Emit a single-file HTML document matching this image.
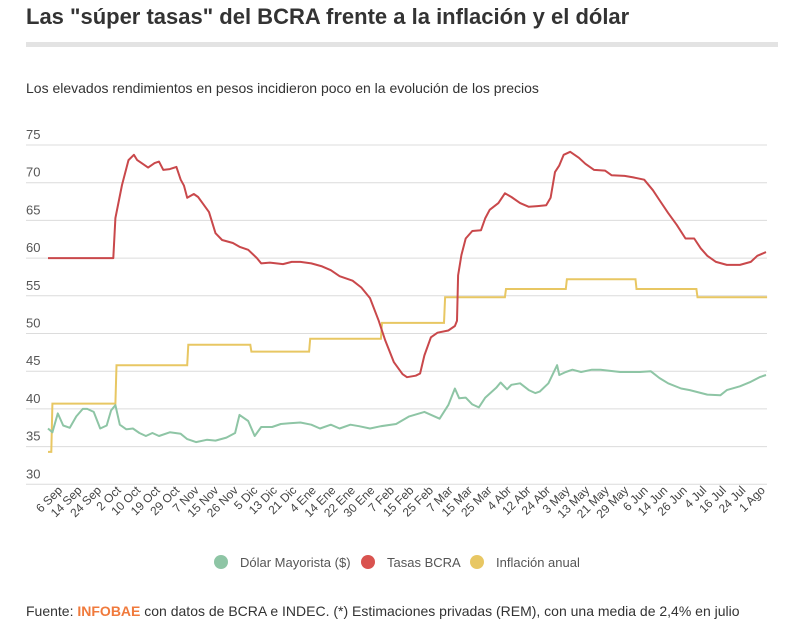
<!DOCTYPE html>
<html><head><meta charset="utf-8"><style>
body{margin:0;background:#fff;font-family:"Liberation Sans",sans-serif;}
#wrap{position:relative;width:793px;height:621px;overflow:hidden;}
h1{position:absolute;left:26px;top:4px;margin:0;font-size:22px;font-weight:bold;color:#333;}
.bar{position:absolute;left:26px;top:42px;width:752px;height:5px;background:#e3e3e3;}
.sub{position:absolute;left:26px;top:80px;font-size:14px;color:#333;}
.foot{position:absolute;left:26px;top:603px;font-size:14px;color:#333;}
.foot b{color:#f07a3c;}
</style></head><body>
<div id="wrap">
<h1>Las "súper tasas" del BCRA frente a la inflación y el dólar</h1>
<div class="bar"></div>
<div class="sub">Los elevados rendimientos en pesos incidieron poco en la evolución de los precios</div>
<svg id="chart" width="793" height="621" style="position:absolute;left:0;top:0"></svg>
<div class="foot">Fuente: <b>INFOBAE</b> con datos de BCRA e INDEC. (*) Estimaciones privadas (REM), con una media de 2,4% en julio</div>
</div>
<script>
const yTicks=[30,35,40,45,50,55,60,65,70,75];
const xLabels=["6 Sep","14 Sep","24 Sep","2 Oct","10 Oct","19 Oct","29 Oct","7 Nov","15 Nov","26 Nov","5 Dic","13 Dic","21 Dic","4 Ene","14 Ene","22 Ene","30 Ene","7 Feb","15 Feb","25 Feb","7 Mar","15 Mar","25 Mar","4 Abr","12 Abr","24 Abr","3 May","13 May","21 May","29 May","6 Jun","14 Jun","26 Jun","4 Jul","16 Jul","24 Jul","1 Ago"];
const tasasDays=[0,30,31,34,37,39.5,41,43,46,49,51,53,56,59,61,62.5,64,67,69,71,74,77,80,85,88,92,96,98,102,108,112,116,121,126,130,134,140,144,148,152,155,159,163,165,169,171,173,176,179,184,187,188,188.5,190,192,195,199,201,203,207,210,213,217,221,225,229,231,233,235,237,240,244,247,251,256,259,265,269,274,278,281,285,289,293,297,300,303,307,312,318,323,326,330];
const tasasVals=[60,60,65.3,69.7,73,73.7,73,72.6,72,72.6,72.8,71.7,71.8,72.1,70.4,69.6,68,68.5,68.1,67.3,66.1,63.3,62.4,62,61.5,61.1,60,59.3,59.4,59.2,59.5,59.5,59.3,58.9,58.4,57.6,57,56.1,54.7,51.7,49.1,46.2,44.6,44.2,44.4,44.7,47.1,49.5,50.1,50.4,51,51.7,57.7,60.4,62.6,63.6,63.7,65.3,66.4,67.3,68.6,68.1,67.3,66.8,66.9,67,68,71.4,72.3,73.7,74.1,73.3,72.5,71.7,71.6,71,70.9,70.7,70.4,69,67.7,66,64.4,62.6,62.6,61.3,60.3,59.5,59.1,59.1,59.5,60.3,60.8];
const dolarDays=[0,2,4.5,7,10,13,16,18,21,24,27,29,31,33,36,39,42,45,48,51,56,61,64,68,73,77,82,86,88,92,95,98,103,107,111,116,121,125,130,134,139,143,148,153,160,166,173,180,184,187,189,192,195,198,201,206,208,211,213,217,221,224,226,230,234,235,238,241,245,250,254,263,272,277,281,285,291,295,303,309,312,318,323,327,330];
const dolarVals=[37.4,36.9,39.4,37.8,37.5,39,40,40,39.6,37.4,37.8,39.8,40.5,37.9,37.3,37.4,36.8,36.4,36.8,36.4,36.9,36.7,36,35.6,35.9,35.8,36.2,36.8,39.2,38.4,36.4,37.6,37.6,38,38.1,38.2,37.9,37.4,37.9,37.4,37.9,37.7,37.4,37.7,38,39,39.6,38.7,40.5,42.7,41.4,41.5,40.6,40.2,41.5,42.8,43.5,42.6,43.2,43.4,42.5,42.1,42.3,43.4,45.8,44.5,44.9,45.2,44.9,45.2,45.2,44.9,44.9,45,44.1,43.4,42.7,42.5,41.9,41.8,42.5,43,43.6,44.2,44.5];
const inflDays=[0,1.5,31,64,93,120,153,182,210,238,270,298,330];
const inflVals=[34.3,40.7,45.8,48.5,47.6,49.3,51.4,54.8,55.9,57.2,55.9,54.8,54.8];

const NS="http://www.w3.org/2000/svg",svg=document.getElementById('chart');
const X=d=>48+d*(718/330), Y=v=>145+(75-v)*7.54;
function mk(t,a){const e=document.createElementNS(NS,t);for(const k in a)e.setAttribute(k,a[k]);svg.appendChild(e);return e;}
yTicks.forEach(v=>{
 const l=mk('line',{x1:26,x2:767,y1:Y(v),y2:Y(v),stroke:'#dcdcdc','stroke-width':1});
 
 
 const t=mk('text',{x:26,y:Y(v)-6,'font-size':13,fill:'#555'});t.textContent=v;
 
 
});
const step=323/(xLabels.length-1);
xLabels.forEach((s,i)=>{
 const x=X(i*step)+15,y=491;
 const t=mk('text',{x:x,y:y,'font-size':12,fill:'#444','text-anchor':'end',transform:`rotate(-45 ${x} ${y})`});t.textContent=s;
 
 
});
function line(days,vals,col,name){
 const d=days.map((x,i)=>(i?'L':'M')+X(x).toFixed(1)+','+Y(vals[i]).toFixed(1)).join('');
 const p=mk('path',{d:d,fill:'none',stroke:col,'stroke-width':2,'stroke-linejoin':'round'});
 
 
}
let sd='M'+X(inflDays[0])+','+Y(inflVals[0]);
for(let i=1;i<inflDays.length;i++){sd+='L'+X(inflDays[i]).toFixed(1)+','+Y(inflVals[i-1]).toFixed(1)+'L'+X(inflDays[i]+0.5).toFixed(1)+','+Y(inflVals[i]).toFixed(1);}
const ip=mk('path',{d:sd,fill:'none',stroke:'#e8c763','stroke-width':2});


line(dolarDays,dolarVals,'#8ec5a5','dolar-line');
line(tasasDays,tasasVals,'#c9484b','tasas-line');
[[221,'#8ec5a5','Dólar Mayorista ($)'],[368,'#d9534f','Tasas BCRA'],[477,'#e8c763','Inflación anual']].forEach(([x,c,s])=>{
 const g=mk('g',{});
 
 
 const ci=document.createElementNS(NS,'circle');ci.setAttribute('cx',x);ci.setAttribute('cy',562);ci.setAttribute('r',7);ci.setAttribute('fill',c);g.appendChild(ci);
 const t=document.createElementNS(NS,'text');t.setAttribute('x',x+19);t.setAttribute('y',567);t.setAttribute('font-size',13);t.setAttribute('fill','#555');t.textContent=s;g.appendChild(t);
});
</script>
</body></html>
